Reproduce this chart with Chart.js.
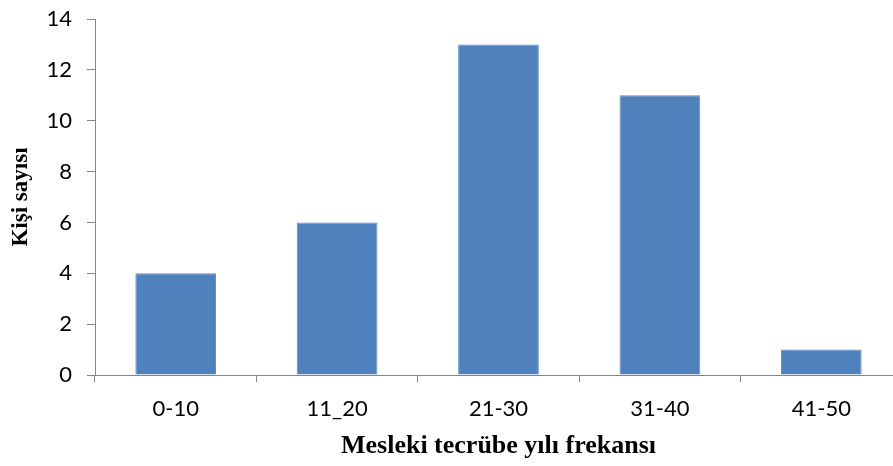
<!DOCTYPE html>
<html>
<head>
<meta charset="utf-8">
<script src="https://cdn.jsdelivr.net/npm/chart.js@4"></script>
<style>
html,body{margin:0;padding:0;background:#fff;overflow:hidden;}
#wrap{width:902px;height:466px;}
</style>
</head>
<body>
<div id="wrap"><canvas id="c" width="902" height="466"></canvas></div>
<script>
const categories = ["0-10", "11_20", "21-30", "31-40", "41-50"];
const counts = [4, 6, 13, 11, 1];
const yTicks = [0, 2, 4, 6, 8, 10, 12, 14];
const xTitle = "Mesleki tecrübe yılı frekansı";
const yTitle = "Kişi sayısı";

const axisColor = "#868686";
new Chart(document.getElementById("c"), {
  type: "bar",
  data: {
    labels: categories,
    datasets: [{
      data: counts,
      backgroundColor: "#4F81BD",
      borderColor: "#5a8bc6",
      borderWidth: 1,
      barPercentage: 0.5,
      categoryPercentage: 1.0
    }]
  },
  options: {
    responsive: false,
    animation: false,
    events: [],
    layout: { padding: { top: 19, right: 0, left: 0, bottom: 0 } },
    plugins: { legend: { display: false }, tooltip: { enabled: false } },
    scales: {
      x: {
        grid: { display: true, drawOnChartArea: false, drawTicks: true, tickLength: 7, color: axisColor, offset: true },
        border: { display: true, color: axisColor, width: 1 },
        ticks: { color: "#000", font: { family: "Lato", size: 22 }, padding: 14 },
        title: { display: true, text: xTitle, color: "#000", font: { family: "Liberation Serif", size: 26, weight: "bold" }, padding: { top: 6 } },
        afterFit: s => { s.height = 91; s.paddingLeft = 0; s.paddingRight = 0; }
      },
      y: {
        min: 0, max: 14,
        afterBuildTicks: s => { s.ticks = yTicks.map(v => ({ value: v })); },
        grid: { display: true, drawOnChartArea: false, drawTicks: true, tickLength: 8, color: axisColor },
        border: { display: true, color: axisColor, width: 1 },
        ticks: { color: "#000", font: { family: "Lato", size: 22 }, padding: 15 },
        title: { display: true, text: yTitle, color: "#000", font: { family: "Liberation Serif", size: 23, weight: "bold" }, padding: { top: 7, bottom: 0 } },
        afterFit: s => { s.width = 95; s.paddingTop = 0; s.paddingBottom = 0; }
      }
    }
  }
});
</script>
</body>
</html>
